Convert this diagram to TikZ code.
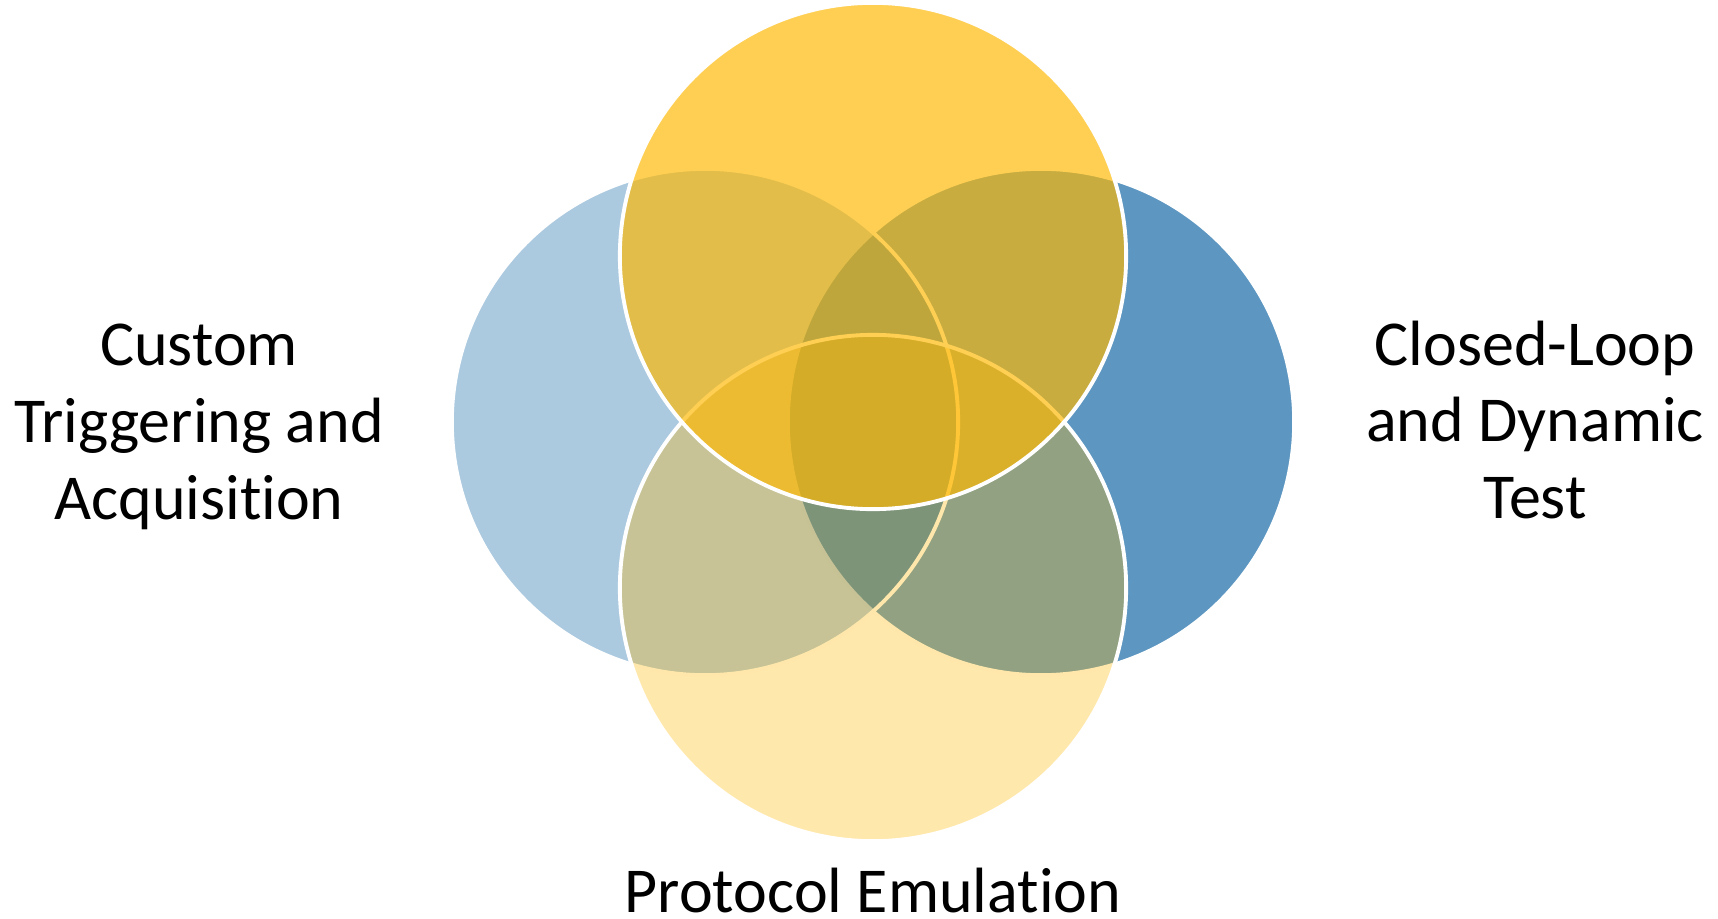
\documentclass[tikz,border=0pt]{standalone}
\usepackage{fontspec}
\setmainfont[Ligatures=NoCommon]{Carlito}
\usepackage{xcolor}
\usepackage{tikz}
\definecolor{venngold}{RGB}{255,184,0}
\definecolor{vennblue}{RGB}{0,91,158}

\begin{document}
\begin{tikzpicture}[x=0.01cm, y=-0.01cm,
        vcirc/.style={circle, draw=white, line width=1.1pt, minimum size=5.06cm,
                      inner sep=0pt},
        lbl/.style={align=center, font=\fontsize{18.2}{21.8}\selectfont, inner sep=0pt}
    ]
    \useasboundingbox (0,0) rectangle (1718,918);
    % circles, back to front
    \node[vcirc, fill=vennblue, fill opacity=0.64] (rgt) at (1041,422) {};
    \node[vcirc, fill=vennblue, fill opacity=0.33] (lft) at (705,422) {};
    \node[vcirc, fill=venngold, fill opacity=0.33] (bot) at (873,588) {};
    \node[vcirc, fill=venngold, fill opacity=0.67] (top) at (873,256) {};
    % labels
    \node[lbl] (ltxt) at (199,427) {Custom\\Triggering and\\Acquisition};
    \node[lbl] (rtxt) at (1535,420) {Closed-Loop\\and Dynamic\\Test};
    \node[lbl, anchor=base] (btxt) at (873,912) {Protocol Emulation};
\end{tikzpicture}
\end{document}
